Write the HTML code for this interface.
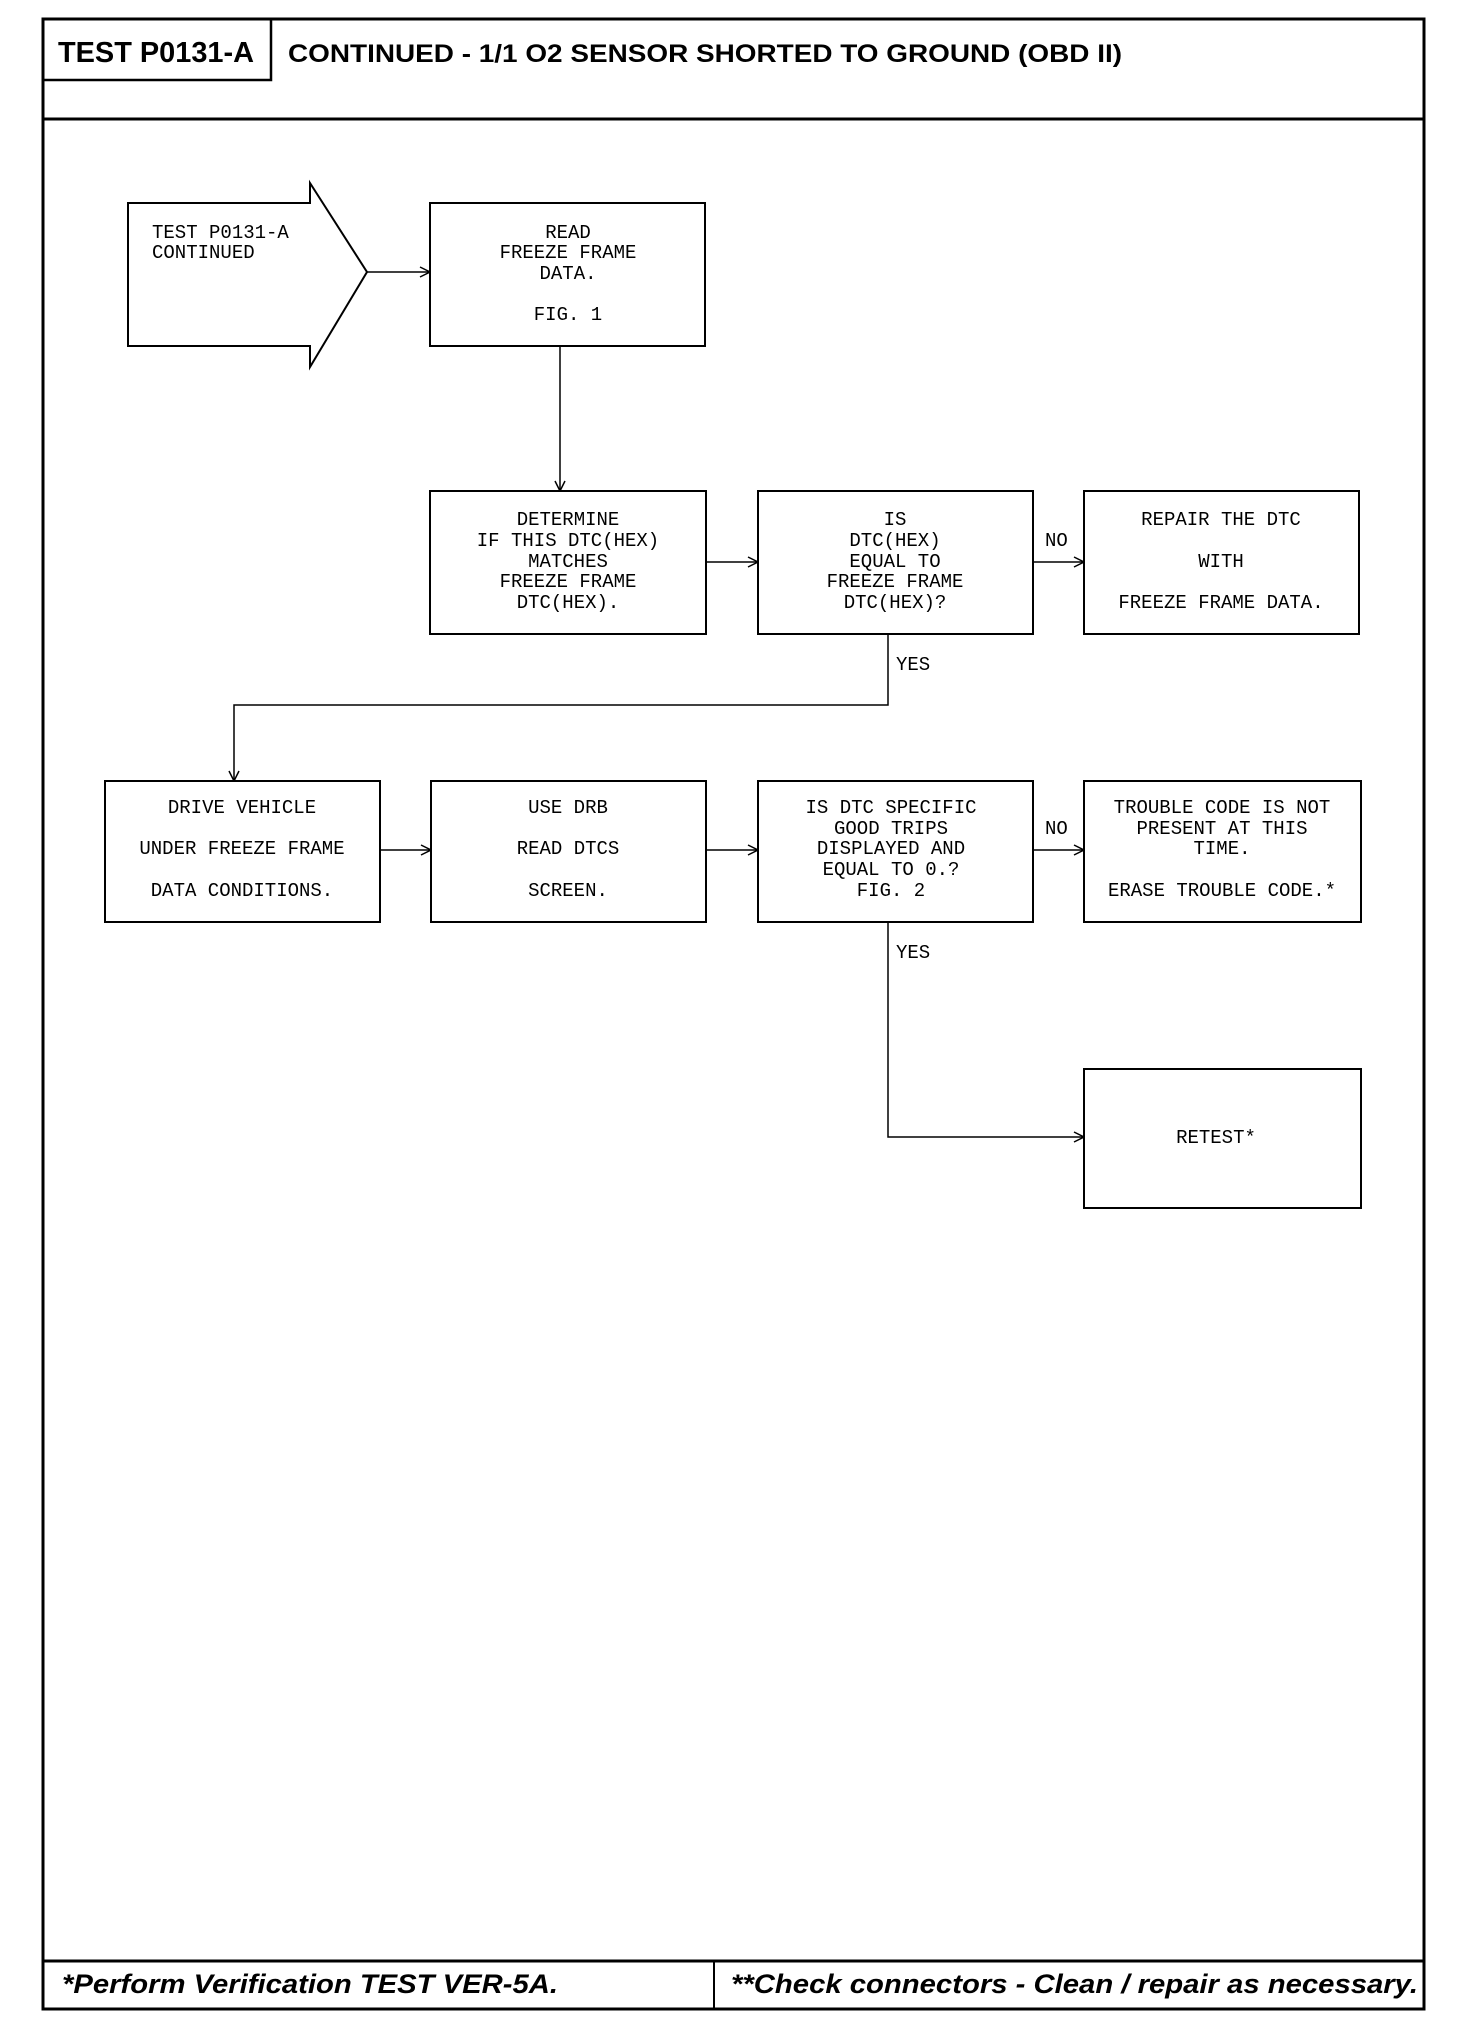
<!DOCTYPE html>
<html><head><meta charset="utf-8"><style>
html,body{margin:0;padding:0;background:#fff;}
svg{display:block;}
.m{font-family:"Liberation Mono",monospace;font-size:19px;fill:#000;}
</style></head><body>
<svg width="1472" height="2040" viewBox="0 0 1472 2040" xmlns="http://www.w3.org/2000/svg">
<defs><marker id="a" markerWidth="12" markerHeight="12" refX="11" refY="6" orient="auto" markerUnits="userSpaceOnUse"><path d="M1,1 L11,6 L1,11" fill="none" stroke="#000" stroke-width="1.5"/></marker></defs>
<g fill="none" stroke="#000">
<rect x="43" y="19" width="1381" height="1990" stroke-width="3"/>
<line x1="43" y1="119" x2="1424" y2="119" stroke-width="3"/>
<polyline points="43,80 271,80 271,19" stroke-width="2.5"/>
<line x1="43" y1="1961" x2="1424" y2="1961" stroke-width="3"/>
<line x1="714" y1="1961" x2="714" y2="2009" stroke-width="2"/>
<g stroke-width="2">
<path d="M128,203 L310,203 L310,183 L367,272 L310,367 L310,346 L128,346 Z"/>
<rect x="430" y="203" width="275" height="143"/>
<rect x="430" y="491" width="276" height="143"/>
<rect x="758" y="491" width="275" height="143"/>
<rect x="1084" y="491" width="275" height="143"/>
<rect x="105" y="781" width="275" height="141"/>
<rect x="431" y="781" width="275" height="141"/>
<rect x="758" y="781" width="275" height="141"/>
<rect x="1084" y="781" width="277" height="141"/>
<rect x="1084" y="1069" width="277" height="139"/>
</g>
<g stroke-width="1.5">
<line x1="367" y1="272" x2="430" y2="272" marker-end="url(#a)"/>
<line x1="560" y1="346" x2="560" y2="491" marker-end="url(#a)"/>
<line x1="706" y1="562" x2="758" y2="562" marker-end="url(#a)"/>
<line x1="1033" y1="562" x2="1084" y2="562" marker-end="url(#a)"/>
<polyline points="888,634 888,705 234,705 234,781" marker-end="url(#a)"/>
<line x1="380" y1="850" x2="431" y2="850" marker-end="url(#a)"/>
<line x1="706" y1="850" x2="758" y2="850" marker-end="url(#a)"/>
<line x1="1033" y1="850" x2="1084" y2="850" marker-end="url(#a)"/>
<polyline points="888,922 888,1137 1084,1137" marker-end="url(#a)"/>
</g>
</g>
<g font-family="Liberation Sans, sans-serif" font-weight="bold" fill="#000">
<text x="58" y="62" font-size="29" textLength="196" lengthAdjust="spacingAndGlyphs">TEST P0131-A</text>
<text x="288" y="62" font-size="25" textLength="834" lengthAdjust="spacingAndGlyphs">CONTINUED - 1/1 O2 SENSOR SHORTED TO GROUND (OBD II)</text>
<text x="62" y="1993" font-size="27" font-style="italic" textLength="496" lengthAdjust="spacingAndGlyphs">*Perform Verification TEST VER-5A.</text>
<text x="731" y="1993" font-size="27" font-style="italic" textLength="687" lengthAdjust="spacingAndGlyphs">**Check connectors - Clean / repair as necessary.</text>
</g>
<g class="m">
<text x="152" y="238">TEST P0131-A</text>
<text x="152" y="258">CONTINUED</text>
<g text-anchor="middle">
<text x="568" y="238">READ</text>
<text x="568" y="258">FREEZE FRAME</text>
<text x="568" y="279">DATA.</text>
<text x="568" y="320">FIG. 1</text>
<text x="568" y="525">DETERMINE</text>
<text x="568" y="546">IF THIS DTC(HEX)</text>
<text x="568" y="567">MATCHES</text>
<text x="568" y="587">FREEZE FRAME</text>
<text x="568" y="608">DTC(HEX).</text>
<text x="895" y="525">IS</text>
<text x="895" y="546">DTC(HEX)</text>
<text x="895" y="567">EQUAL TO</text>
<text x="895" y="587">FREEZE FRAME</text>
<text x="895" y="608">DTC(HEX)?</text>
<text x="1221" y="525">REPAIR THE DTC</text>
<text x="1221" y="567">WITH</text>
<text x="1221" y="608">FREEZE FRAME DATA.</text>
<text x="242" y="813">DRIVE VEHICLE</text>
<text x="242" y="854">UNDER FREEZE FRAME</text>
<text x="242" y="896">DATA CONDITIONS.</text>
<text x="568" y="813">USE DRB</text>
<text x="568" y="854">READ DTCS</text>
<text x="568" y="896">SCREEN.</text>
<text x="891" y="813">IS DTC SPECIFIC</text>
<text x="891" y="834">GOOD TRIPS</text>
<text x="891" y="854">DISPLAYED AND</text>
<text x="891" y="875">EQUAL TO 0.?</text>
<text x="891" y="896">FIG. 2</text>
<text x="1222" y="813">TROUBLE CODE IS NOT</text>
<text x="1222" y="834">PRESENT AT THIS</text>
<text x="1222" y="854">TIME.</text>
<text x="1222" y="896">ERASE TROUBLE CODE.*</text>
<text x="1216" y="1143">RETEST*</text>
</g>
<text x="1045" y="546">NO</text>
<text x="1045" y="834">NO</text>
<text x="896" y="670">YES</text>
<text x="896" y="958">YES</text>
</g>
</svg>
</body></html>
